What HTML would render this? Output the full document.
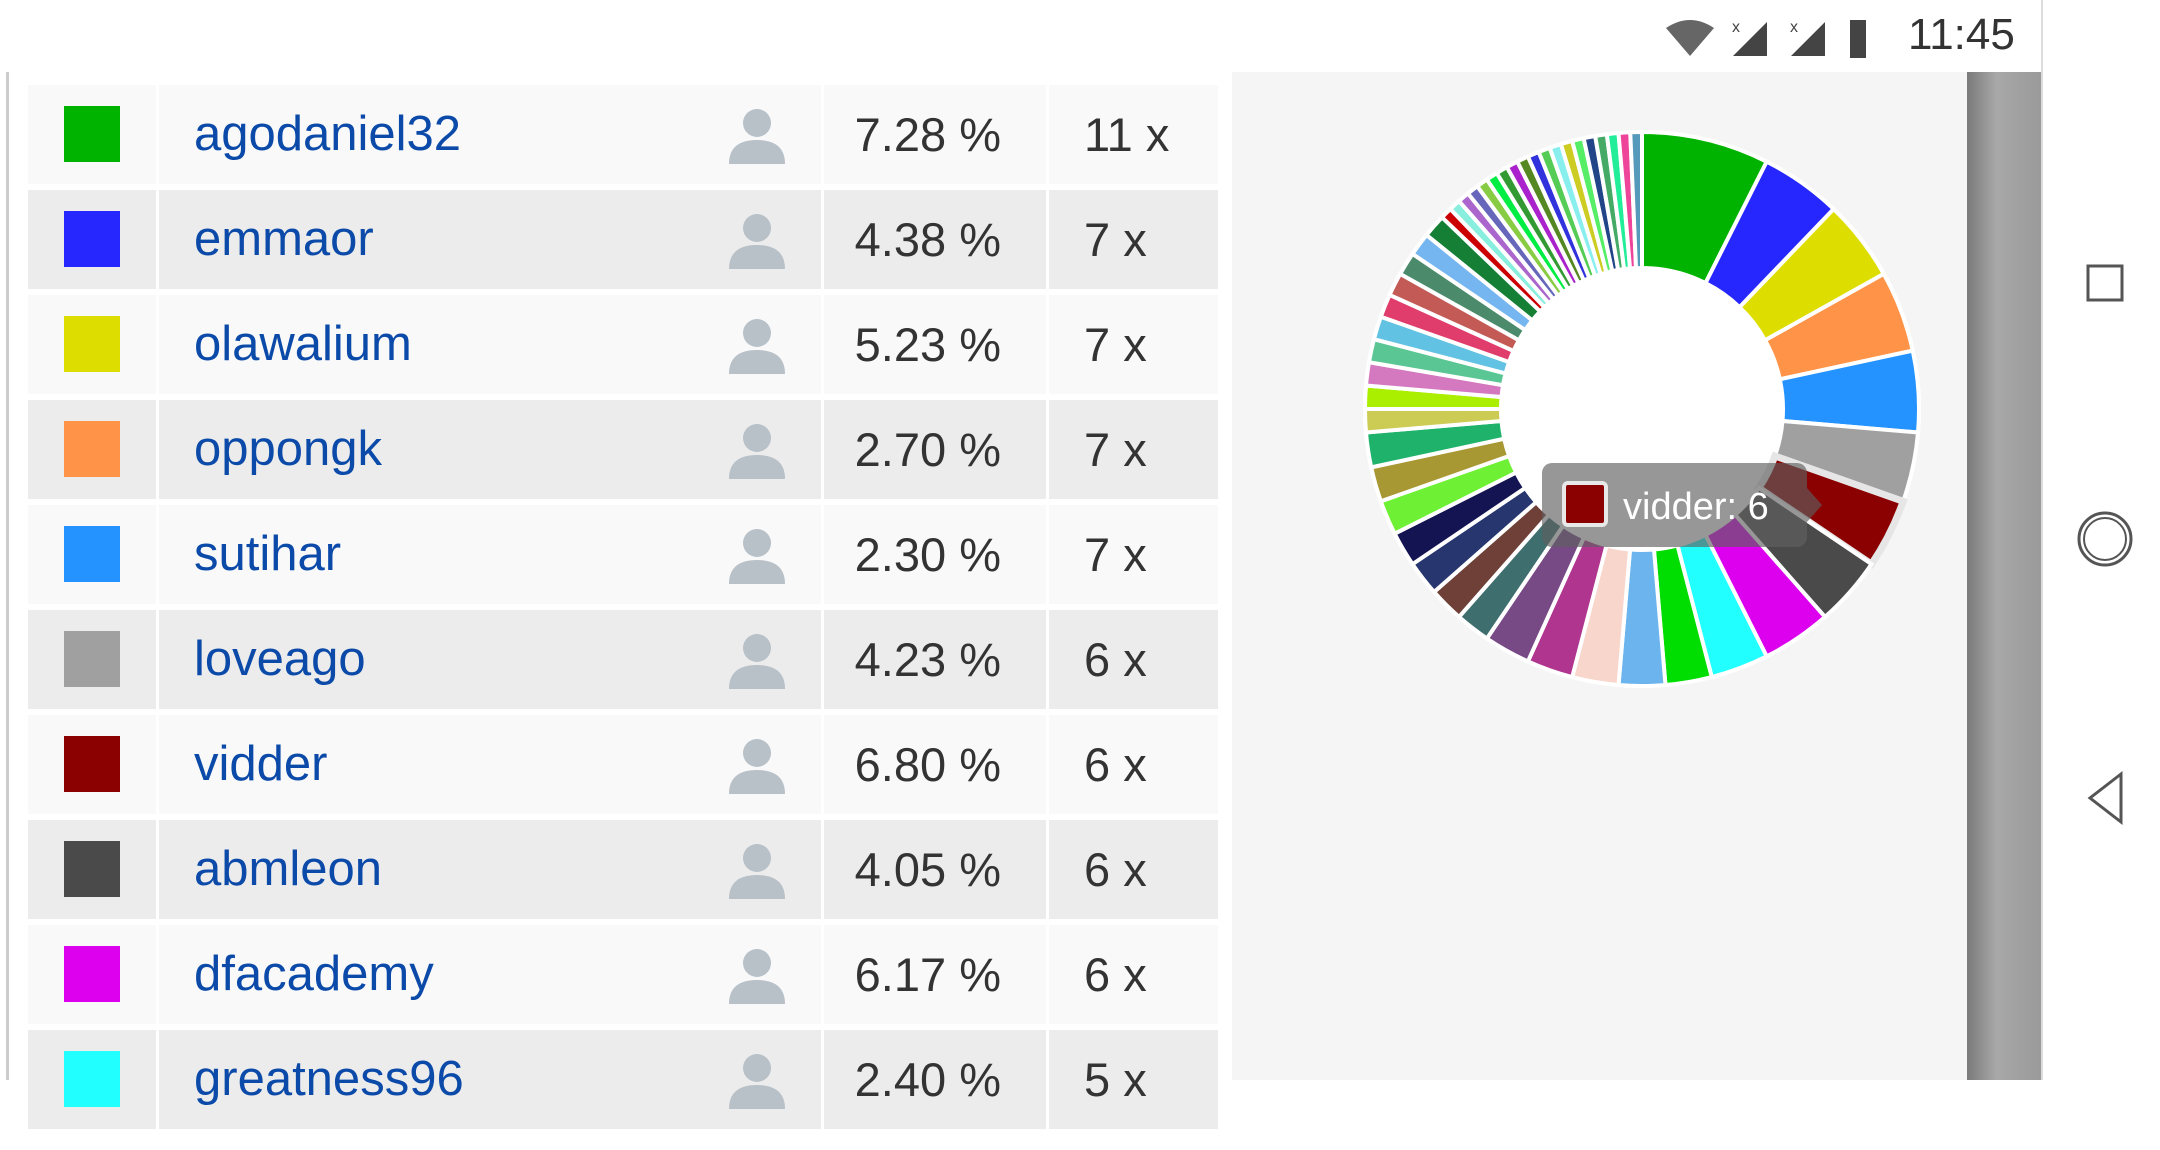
<!DOCTYPE html>
<html><head><meta charset="utf-8">
<style>
html,body{margin:0;padding:0;width:2160px;height:1080px;overflow:hidden;background:#fff;font-family:"Liberation Sans",sans-serif}
.abs{position:absolute}
.row{position:absolute;left:28px;width:1190px;height:99px}
.cell{position:absolute;top:0;height:99px}
.name{color:#0b4aa8;font-size:49px;line-height:99px}
.num{color:#333;font-size:47px;line-height:99px}
</style></head>
<body>
<div class="abs" style="left:0;top:0;width:2041px;height:72px;background:#fff">
  <svg class="abs" style="left:1660px;top:14px" width="220" height="48">
    <path d="M6 14 Q30 -2 54 14 L30 42 Z" fill="#666"/><path d="M73 42 L107 8 L107 42 Z" fill="#444"/><path d="M131 42 L165 8 L165 42 Z" fill="#444"/>
    <text x="72" y="18" font-size="16" fill="#444">x</text><text x="130" y="18" font-size="16" fill="#444">x</text>
    <rect x="190" y="6" width="16" height="38" fill="#444"/>
  </svg>
  <div class="abs" style="left:1908px;top:10px;font-size:44px;color:#333">11:45</div>
</div>
<div class="abs" style="left:6px;top:72px;width:3px;height:1008px;background:#ccc"></div>
<div class="abs" style="left:1232px;top:72px;width:735px;height:1008px;background:#f5f5f5"></div>
<div class="abs" style="left:1967px;top:72px;width:74px;height:1008px;background:linear-gradient(90deg,#7a7a7a,#a8a8a8 40%,#9a9a9a)"></div>
<div class="abs" style="left:2041px;top:0;width:119px;height:1080px;background:#fff;border-left:2px solid #ddd">
  <svg width="119" height="1080">
    <rect x="45" y="266" width="34" height="34" fill="none" stroke="#555" stroke-width="3"/>
    <circle cx="62" cy="539" r="26" fill="none" stroke="#555" stroke-width="3"/>
    <circle cx="62" cy="539" r="21" fill="none" stroke="#555" stroke-width="2"/>
    <path d="M78 774 L47 798 L78 822 Z" fill="none" stroke="#555" stroke-width="3"/>
  </svg>
</div>
<div id="table"></div>
<svg id="chart" class="abs" style="left:1232px;top:72px" width="735" height="1008"></svg>
<script>
const names=["agodaniel32","emmaor","olawalium","oppongk","sutihar","loveago","vidder","abmleon","dfacademy","greatness96"];
const pcts=["7.28 %","4.38 %","5.23 %","2.70 %","2.30 %","4.23 %","6.80 %","4.05 %","6.17 %","2.40 %"];
const counts=[11,7,7,7,7,6,6,6,6,5];
const colors=["#00b300","#2626ff","#dddd00","#ff9448","#2492ff","#a0a0a0","#8b0000","#4a4a4a","#dd00ee","#22ffff","#00dd00","#6cb4ee","#f9d6cb","#b0358f","#774a86","#3e6e6e","#6e4038","#27366e","#141452","#6ef034","#a89834","#1fb26b","#cccc55","#aaee00","#d478c0","#5ac693","#62c2e4","#e03c6c","#c35a55","#4b8b6b","#76b6f0","#157f36","#cc0000","#88eedd","#aa66cc","#6666bb","#88cc44","#00ee44","#339933","#aa22cc","#558822","#3333dd","#55cc55","#88eeee","#cccc22","#55ee66","#224488","#44aa66","#22ee99","#ee4499","#5599bb"];
const sliceValues=[11,7,7,7,7,6,6,6,6,5,4,4,4,4,4,3,3,3,3,3,3,3,2,2,2,2,2,2,2,2,2,2,1,1,1,1,1,1,1,1,1,1,1,1,1,1,1,1,1,1,1];
const sliceLabels=names.concat(sliceValues.slice(10).map((v,i)=>"user"+(i+11)));
const hoverIndex=6;

const T=document.getElementById('table');
for(let i=0;i<names.length;i++){
  const top=85+i*105, bg=i%2?'#ececec':'#f9f9f9';
  const r=document.createElement('div');
  r.className='row';r.style.top=top+'px';
  
  
  r.innerHTML=
   `<div class="cell" style="left:0;width:128px;background:${bg}"><div style="position:absolute;left:36px;top:21px;width:56px;height:56px;background:${colors[i]}"></div></div>`+
   `<div class="cell" style="left:131px;width:662px;background:${bg}"></div>`+
   `<div class="cell name" style="left:166px">${names[i]}</div>`+
   `<svg class="cell" style="left:699px;top:21px" width="60" height="58"><circle cx="30" cy="17" r="14" fill="#b8c0c8"/><path d="M2 58 Q2 34 30 34 Q58 34 58 58 Z" fill="#b8c0c8"/></svg>`+
   `<div class="cell num" style="left:796px;width:222px;background:${bg}"><span style="position:absolute;width:300px;text-align:right;right:45px">${pcts[i]}</span></div>`+
   `<div class="cell num" style="left:1021px;width:169px;background:${bg}"><span style="position:absolute;left:35px">${counts[i]} x</span></div>`;
  T.appendChild(r);
}

const S=document.getElementById('chart'),NS='http://www.w3.org/2000/svg';
const cx=410,cy=337,R=277,r0=141;
const total=sliceValues.reduce((a,b)=>a+b,0);
const angle=v=>v/total*Math.PI*2;
const pt=(a,rad)=>[cx+rad*Math.sin(a),cy-rad*Math.cos(a)];
let ring=document.createElementNS(NS,'circle');
ring.setAttribute('cx',cx);ring.setAttribute('cy',cy);ring.setAttribute('r',R+2);ring.setAttribute('fill','#fff');
S.appendChild(ring);
let acc=0;
sliceValues.forEach((v,i)=>{
  const a0=angle(acc),a1=angle(acc+v);acc+=v;
  const large=(a1-a0)>Math.PI?1:0;
  const p0=pt(a0,R),p1=pt(a1,R),q1=pt(a1,r0),q0=pt(a0,r0);
  const p=document.createElementNS(NS,'path');
  p.setAttribute('d',`M${p0} A${R},${R} 0 ${large} 1 ${p1} L${q1} A${r0},${r0} 0 ${large} 0 ${q0} Z`);
  p.setAttribute('fill',colors[i]);
  p.setAttribute('stroke',i===hoverIndex?'#e6e6e6':'#fff');
  p.setAttribute('stroke-width',i===hoverIndex?7:4);
  
  
  S.appendChild(p);
});
const tip=document.createElementNS(NS,'g');


tip.innerHTML=`<rect x="310" y="391" width="265" height="84" rx="10" fill="rgba(95,95,95,0.65)"/><path d="M575 416 L590 433 L575 450 Z" fill="rgba(95,95,95,0.65)"/>
<rect x="332" y="411" width="42" height="42" rx="4" fill="#8b0000" stroke="#e8e8e8" stroke-width="4"/>
<text x="391" y="447" font-size="38" fill="#fff" font-family="Liberation Sans, sans-serif">${sliceLabels[hoverIndex]}: ${sliceValues[hoverIndex]}</text>`;
S.appendChild(tip);
</script>
</body></html>
